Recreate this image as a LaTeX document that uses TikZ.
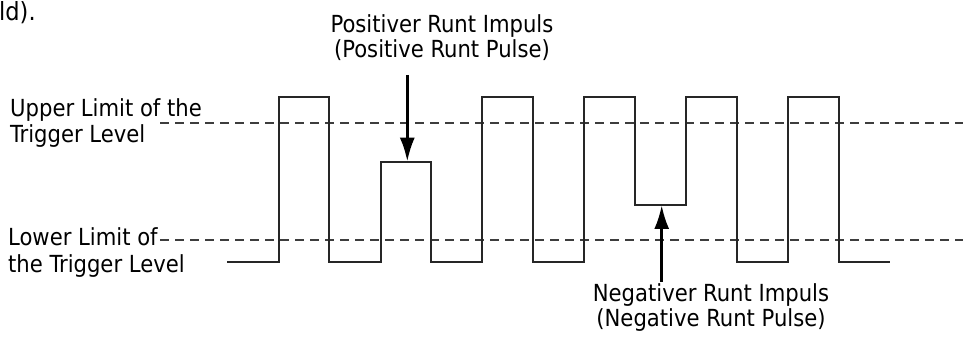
\documentclass[tikz,border=0pt]{standalone}
\usepackage{fontspec}
\setmainfont{DejaVu Sans Condensed}
\usetikzlibrary{arrows.meta}
\begin{document}
\begin{tikzpicture}[x=1pt,y=1pt,
  lbl/.style={font=\fontsize{23.5}{26.5}\selectfont, inner sep=0pt, align=left},
  lblc/.style={font=\fontsize{23.5}{25}\selectfont, inner sep=0pt, align=center},
  sig/.style={line width=2.2pt, draw=black!85, line join=miter},
  lim/.style={line width=2.2pt, draw=black!76, dash pattern=on 9pt off 6pt},
  runtarrow/.style={line width=3pt, draw=black, -{Latex[length=24pt,width=15pt]}}]
\useasboundingbox (0,0) rectangle (963,339);

% labels (base anchor = baseline of last line)
\node[lbl, anchor=base west, font=\fontsize{25}{28}\selectfont] (cut) at (-1,318) {ld).};
\node[lbl, anchor=base west] (upper) at (10,196) {Upper Limit of the\\Trigger Level};
\node[lbl, anchor=base west] (lower) at (8,66.5) {Lower Limit of\\the Trigger Level};
\node[lblc, anchor=base] (pos) at (442,281) {Positiver Runt Impuls\\(Positive Runt Pulse)};
\node[lblc, anchor=base] (neg) at (711,12) {Negativer Runt Impuls\\(Negative Runt Pulse)};

% trigger limits
\coordinate (ul0) at (160,215.7); \coordinate (ul1) at (963,215.7);
\coordinate (ll0) at (160,99);    \coordinate (ll1) at (963,99);
\draw[lim] (ul0) -- (ul1);
\draw[lim] (ll0) -- (ll1);

% signal
\draw[sig] (227,77.3) -- (278.7,77.3) -- (278.7,242.3) -- (329.3,242.3) -- (329.3,77.3)
  -- (381,77.3) -- (381,177.3) -- (431,177.3) -- (431,77.3)
  -- (482.3,77.3) -- (482.3,242.3) -- (533.3,242.3) -- (533.3,77.3)
  -- (584.3,77.3) -- (584.3,242.3) -- (635,242.3) -- (635,134)
  -- (686,134) -- (686,242.3) -- (737.3,242.3) -- (737.3,77.3)
  -- (788.3,77.3) -- (788.3,242.3) -- (839.3,242.3) -- (839.3,77.3) -- (890,77.3);

% arrows
\coordinate (ptail) at (407.3,264); \coordinate (ptip) at (407.3,177.3);
\coordinate (ntail) at (661.7,57);  \coordinate (ntip) at (661.7,134);
\draw[runtarrow] (ptail) -- (ptip);
\draw[runtarrow] (ntail) -- (ntip);
\end{tikzpicture}
\end{document}
